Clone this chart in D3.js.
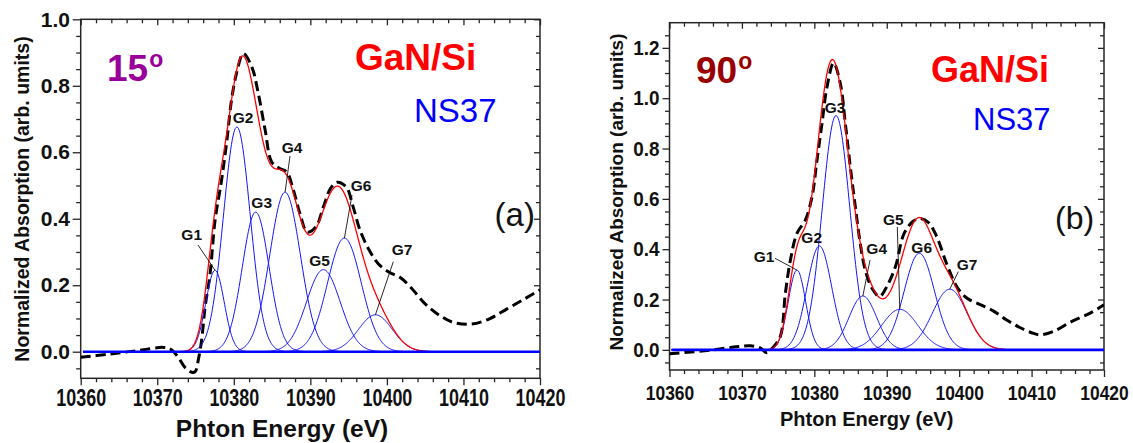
<!DOCTYPE html>
<html>
<head>
<meta charset="utf-8">
<script src="https://cdn.jsdelivr.net/npm/d3@7"></script>
<style>
  body { margin: 0; background: #fff; }
  svg { display: block; font-family: "Liberation Sans", Arial, sans-serif; }
</style>
</head>
<body>
<svg id="chart" width="1133" height="443"></svg>
<script>
// ---- data ----
const energyRange = [10360, 10420];
const energyTicks = [10360, 10370, 10380, 10390, 10400, 10410, 10420];
const peakNames = ['G1', 'G2', 'G3', 'G4', 'G5', 'G6', 'G7'];

// (a) 15 deg
const yTicksA = [0, 0.2, 0.4, 0.6, 0.8, 1.0];
const centersA = [10377.55, 10380.4, 10382.86, 10386.7, 10391.7, 10394.45, 10398.5];
const heightsA = [0.245, 0.676, 0.42, 0.48, 0.247, 0.342, 0.111];
const sigmasA  = [1.2, 1.75, 1.75, 2.0, 2.2, 2.2, 2.2];
const expEnergyA = [10360, 10363.5, 10367.3, 10370.8, 10371.7, 10372.75, 10373.6, 10374.5, 10374.95,
  10375.4, 10375.8, 10376.25, 10376.9, 10377.55, 10378.4, 10379.1, 10379.7, 10380.4, 10381.25,
  10382.35, 10383.2, 10384.1, 10384.95, 10386.0, 10386.9, 10387.8, 10388.65, 10389.6, 10390.7,
  10391.7, 10392.6, 10393.5, 10394.7, 10395.6, 10396.5, 10397.7, 10398.9, 10400.3, 10401.7,
  10403.1, 10405.0, 10406.9, 10408.7, 10411.0, 10413.4, 10415.7, 10418.0, 10420];
const expAbsA = [-0.017, -0.008, 0.003, 0.013, 0.008, -0.017, -0.047, -0.062, -0.06,
  -0.02, 0.035, 0.134, 0.234, 0.395, 0.516, 0.636, 0.757, 0.842, 0.897,
  0.857, 0.777, 0.666, 0.571, 0.551, 0.541, 0.485, 0.415, 0.36, 0.375,
  0.435, 0.49, 0.51, 0.495, 0.435, 0.365, 0.305, 0.264, 0.239, 0.224,
  0.194, 0.144, 0.109, 0.088, 0.083, 0.099, 0.129, 0.159, 0.186];

// (b) 90 deg
const yTicksB = [0, 0.2, 0.4, 0.6, 0.8, 1.0, 1.2];
const centersB = [10377.6, 10380.7, 10383.0, 10386.7, 10391.8, 10394.5, 10398.7];
const heightsB = [0.317, 0.413, 0.931, 0.214, 0.161, 0.384, 0.241];
const sigmasB  = [1.2, 1.7, 1.9, 1.9, 2.5, 2.1, 2.4];
const expEnergyB = [10360, 10365.2, 10368.9, 10371.2, 10372.55, 10373.4, 10374.2, 10375.3, 10376.0,
  10376.7, 10377.6, 10378.76, 10379.68, 10380.37, 10381.06, 10381.75, 10382.66, 10383.59, 10384.28,
  10384.97, 10385.66, 10386.34, 10387.03, 10387.96, 10389.0, 10390.0, 10391.2, 10392.4, 10393.6,
  10394.6, 10395.8, 10396.9, 10398.3, 10399.7, 10401.1, 10402.9, 10404.7, 10406.5, 10408.3,
  10410.0, 10411.2, 10413.0, 10415.5, 10418.1, 10420];
const expAbsB = [-0.015, -0.003, 0.011, 0.016, 0.007, -0.011, 0.007, 0.053, 0.225,
  0.357, 0.463, 0.516, 0.608, 0.754, 0.9, 1.045, 1.14, 1.058, 0.9,
  0.727, 0.569, 0.423, 0.317, 0.245, 0.212, 0.251, 0.331, 0.463, 0.51,
  0.522, 0.505, 0.45, 0.34, 0.25, 0.205, 0.18, 0.155, 0.12, 0.09,
  0.068, 0.06, 0.073, 0.112, 0.146, 0.179];

// ---- panel layouts ----
const panels = [
  {
    box: {left: 80.7, right: 540, top: 19.3, bottom: 378.3},
    yDomain: [-0.08, 1.0], yTicks: yTicksA,
    centers: centersA, heights: heightsA, sigmas: sigmasA,
    expE: expEnergyA, expY: expAbsA,
    yTickFont: 21, yTickScale: 1, yTickPad: 2.7, yTickSize: 8,
    xTickFont: 23, xTickScale: 0.78, xTickTop: 11.7,
    xTitle: {x: 282, y: 436.5, size: 24.5},
    yTitle: {x: 29, y: 199, size: 19.5},
    angle: {text: '15', x: 107, y: 81, size: 37, supSize: 23, color: '#990099'},
    sample: {x: 355, y: 70, size: 37},
    ns: {x: 414, y: 122, size: 33},
    tag: {text: '(a)', x: 494.6, y: 226, size: 33},
    labels: [
      {x: 191.7, y: 240, lead: [198, 245]},
      {x: 243, y: 123},
      {x: 261.7, y: 208},
      {x: 292, y: 153, lead: [290, 156]},
      {x: 319.5, y: 266},
      {x: 361, y: 191, lead: [352, 195]},
      {x: 402, y: 255, lead: [393.3, 261.7]}
    ]
  },
  {
    box: {left: 669.5, right: 1104, top: 22.7, bottom: 370},
    yDomain: [-0.08, 1.3], yTicks: yTicksB,
    centers: centersB, heights: heightsB, sigmas: sigmasB,
    expE: expEnergyB, expY: expAbsB,
    yTickFont: 21, yTickScale: 0.9, yTickPad: 3, yTickSize: 7,
    xTickFont: 21, xTickScale: 0.83, xTickTop: 15,
    xTitle: {x: 866.7, y: 426, size: 20},
    yTitle: {x: 623, y: 192, size: 19},
    angle: {text: '90', x: 696, y: 83, size: 37, supSize: 23, color: '#990000'},
    sample: {x: 931, y: 82, size: 36},
    ns: {x: 973, y: 130, size: 31},
    tag: {text: '(b)', x: 1055, y: 229, size: 32},
    labels: [
      {x: 764, y: 261.7, lead: [775, 258.3]},
      {x: 811.7, y: 243},
      {x: 835, y: 112.7},
      {x: 876.7, y: 254, lead: [870, 260]},
      {x: 893.3, y: 225, lead: [897.3, 227]},
      {x: 921.7, y: 253},
      {x: 967, y: 270, lead: [958.3, 271.7]}
    ]
  }
];

const svg = d3.select('#chart');
svg.append('rect').attr('width', 1133).attr('height', 443).attr('fill', '#fff');

const gauss = (x, c, h, s) => h * Math.exp(-((x - c) ** 2) / (2 * s * s));
const grid = d3.range(10360.3, 10420.001, 0.1);
const axisColor = '#262626';

function drawPanel(p, idx) {
  const b = p.box;
  const x = d3.scaleLinear().domain(energyRange).range([b.left, b.right]);
  const y = d3.scaleLinear().domain(p.yDomain).range([b.bottom, b.top]);
  const g = svg.append('g');

  // clip
  const clipId = 'clip' + idx;
  svg.append('clipPath').attr('id', clipId)
    .append('rect').attr('x', b.left).attr('y', b.top)
    .attr('width', b.right - b.left).attr('height', b.bottom - b.top);

  // minor / major tick positions
  const xMinor = d3.range(energyRange[0], energyRange[1] + 0.01, 2).filter(v => Math.round(v) % 10 !== 0);
  const yMinor = d3.range(-0.05, p.yDomain[1], 0.05)
    .map(v => Math.round(v * 100) / 100)
    .filter(v => Math.round(v * 100) % 20 !== 0);

  const styleAxis = sel => {
    sel.select('.domain').remove();
    sel.selectAll('line').attr('stroke', axisColor).attr('stroke-width', 1.3);
  };

  // bottom axis
  const bottomAxis = g.append('g').attr('transform', `translate(0,${b.bottom})`)
    .call(d3.axisBottom(x).tickValues(energyTicks).tickSize(7).tickSizeOuter(0)
      .tickPadding(p.xTickTop - 7).tickFormat(d3.format('d')));
  bottomAxis.call(styleAxis);
  bottomAxis.selectAll('text')
    .attr('font-size', p.xTickFont).attr('font-weight', 'bold').attr('fill', '#111')
    .attr('font-family', '"Liberation Sans", Arial, sans-serif')
    .attr('transform', `scale(${p.xTickScale},1)`);
  g.append('g').attr('transform', `translate(0,${b.bottom})`)
    .call(d3.axisBottom(x).tickValues(xMinor).tickSize(4).tickFormat(''))
    .call(styleAxis);

  // top axis (inward ticks)
  g.append('g').attr('transform', `translate(0,${b.top})`)
    .call(d3.axisTop(x).tickValues(energyTicks).tickSize(-6).tickFormat(''))
    .call(styleAxis);
  g.append('g').attr('transform', `translate(0,${b.top})`)
    .call(d3.axisTop(x).tickValues(xMinor).tickSize(-4).tickFormat(''))
    .call(styleAxis);

  // left axis
  const leftAxis = g.append('g').attr('transform', `translate(${b.left},0)`)
    .call(d3.axisLeft(y).tickValues(p.yTicks).tickSize(p.yTickSize).tickSizeOuter(0)
      .tickFormat(d3.format('.1f')));
  leftAxis.call(styleAxis);
  leftAxis.selectAll('text')
    .attr('font-size', p.yTickFont).attr('font-weight', 'bold').attr('fill', '#111')
    .attr('font-family', '"Liberation Sans", Arial, sans-serif')
    .attr('x', 0)
    .attr('transform', `translate(${-(p.yTickSize + p.yTickPad)},0) scale(${p.yTickScale},1)`);
  g.append('g').attr('transform', `translate(${b.left},0)`)
    .call(d3.axisLeft(y).tickValues(yMinor).tickSize(4.5).tickFormat(''))
    .call(styleAxis);

  // right axis (inward ticks)
  g.append('g').attr('transform', `translate(${b.right},0)`)
    .call(d3.axisRight(y).tickValues(p.yTicks).tickSize(-6).tickFormat(''))
    .call(styleAxis);
  g.append('g').attr('transform', `translate(${b.right},0)`)
    .call(d3.axisRight(y).tickValues(yMinor).tickSize(-4).tickFormat(''))
    .call(styleAxis);

  // frame
  g.append('rect').attr('x', b.left).attr('y', b.top)
    .attr('width', b.right - b.left).attr('height', b.bottom - b.top)
    .attr('fill', 'none').attr('stroke', axisColor).attr('stroke-width', 1.5);

  const plot = g.append('g').attr('clip-path', `url(#${clipId})`);
  const line = d3.line().x(d => x(d[0])).y(d => y(d[1]));

  // experimental spectrum (dashed)
  const expData = p.expE.map((e, i) => [e, p.expY[i]]);
  plot.append('path').datum(expData)
    .attr('d', line.curve(d3.curveCatmullRom.alpha(0.5)))
    .attr('fill', 'none').attr('stroke', '#000').attr('stroke-width', 3)
    .attr('stroke-dasharray', '10,5');

  // gaussian components
  line.curve(d3.curveLinear);
  p.centers.forEach((c, i) => {
    const comp = grid.map(e => [e, gauss(e, c, p.heights[i], p.sigmas[i])]);
    plot.append('path').datum(comp).attr('d', line)
      .attr('fill', 'none').attr('stroke', '#1414ff').attr('stroke-width', 1);
  });

  // fit envelope
  const env = grid.map(e => [e, d3.sum(p.centers, (c, i) => gauss(e, c, p.heights[i], p.sigmas[i]))]);
  plot.append('path').datum(env).attr('d', line)
    .attr('fill', 'none').attr('stroke', '#ff0000').attr('stroke-width', 1.3);

  // baseline
  plot.append('path').datum([[grid[0], 0], [energyRange[1], 0]]).attr('d', line)
    .attr('fill', 'none').attr('stroke', '#0000ff').attr('stroke-width', 2.6);

  // peak labels
  p.labels.forEach((l, i) => {
    if (l.lead) {
      g.append('line').attr('x1', l.lead[0]).attr('y1', l.lead[1])
        .attr('x2', x(p.centers[i])).attr('y2', y(p.heights[i]))
        .attr('stroke', '#111').attr('stroke-width', 0.9);
    }
    g.append('text').attr('x', l.x).attr('y', l.y).attr('text-anchor', 'middle')
      .attr('font-size', 15.5).attr('font-weight', 'bold').attr('fill', '#111')
      .text(peakNames[i]);
  });

  // annotations
  const a = p.angle;
  const at = g.append('text').attr('x', a.x).attr('y', a.y)
    .attr('font-size', a.size).attr('font-weight', 'bold').attr('fill', a.color);
  at.append('tspan').text(a.text);
  at.append('tspan').attr('font-size', a.supSize).attr('dy', -14).attr('dx', 1).text('o');

  g.append('text').attr('x', p.sample.x).attr('y', p.sample.y)
    .attr('font-size', p.sample.size).attr('font-weight', 'bold').attr('fill', '#ff0000')
    .text('GaN/Si');
  g.append('text').attr('x', p.ns.x).attr('y', p.ns.y)
    .attr('font-size', p.ns.size).attr('fill', '#0000ff').text('NS37');
  g.append('text').attr('x', p.tag.x).attr('y', p.tag.y)
    .attr('font-size', p.tag.size).attr('fill', '#111').text(p.tag.text);

  // axis titles
  g.append('text').attr('x', p.xTitle.x).attr('y', p.xTitle.y).attr('text-anchor', 'middle')
    .attr('font-size', p.xTitle.size).attr('font-weight', 'bold').attr('fill', '#111')
    .text('Phton Energy (eV)');
  g.append('text')
    .attr('transform', `translate(${p.yTitle.x},${p.yTitle.y}) rotate(-90)`)
    .attr('text-anchor', 'middle')
    .attr('font-size', p.yTitle.size).attr('font-weight', 'bold').attr('fill', '#111')
    .text('Normalized Absorption (arb. umits)');
}

panels.forEach(drawPanel);
</script>
</body>
</html>
